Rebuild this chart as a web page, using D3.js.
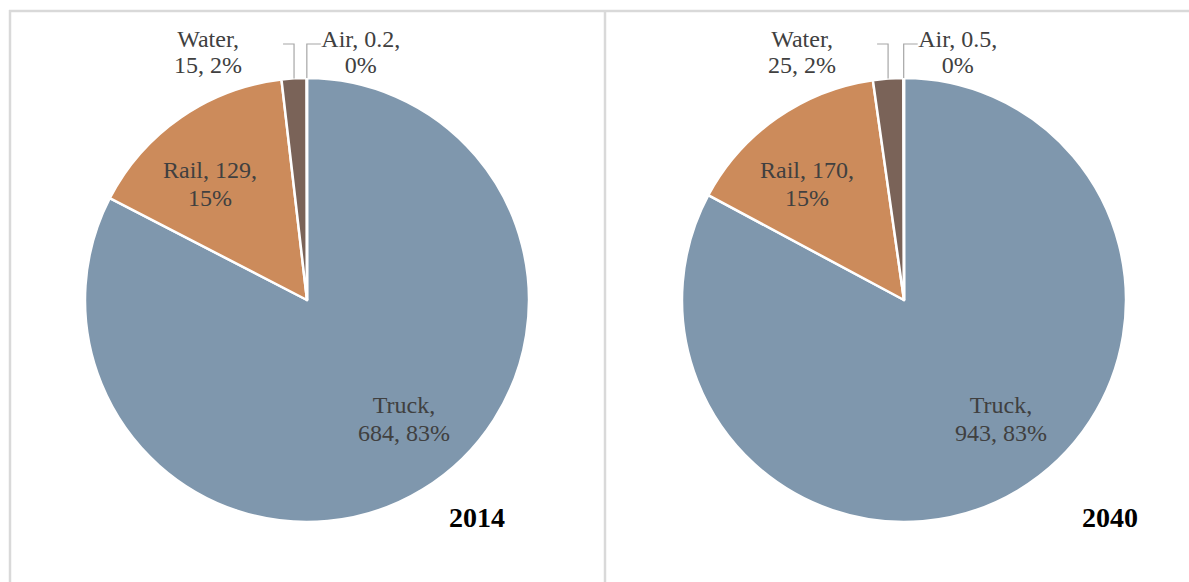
<!DOCTYPE html>
<html>
<head>
<meta charset="utf-8">
<script src="https://cdn.jsdelivr.net/npm/d3@7"></script>
<style>
  html, body { margin: 0; padding: 0; background: #fff; }
  svg { display: block; }
</style>
</head>
<body>
<svg id="chart" width="1189" height="582"></svg>
<script>
// Freight tonnage by mode (millions of tons)
const modes = ["Truck", "Rail", "Water", "Air"];
const years = ["2014", "2040"];
const values2014 = [684, 129, 15, 0.2];
const values2040 = [943, 170, 25, 0.5];
const percentLabels2014 = ["83%", "15%", "2%", "0%"];
const percentLabels2040 = ["83%", "15%", "2%", "0%"];
const valueLabels2014 = ["684", "129", "15", "0.2"];
const valueLabels2040 = ["943", "170", "25", "0.5"];

const colors = d3.scaleOrdinal()
  .domain(modes)
  .range(["#7f97ad", "#cc8b5b", "#7a6358", "#a5a5a5"]);

const W = 1189, H = 582;
const svg = d3.select("#chart");
svg.append("rect").attr("width", W).attr("height", H).attr("fill", "#fff");

// Panel frame
const frame = "#d9d9d9";
svg.append("line").attr("x1", 9).attr("x2", W).attr("y1", 11).attr("y2", 11)
  .attr("stroke", frame).attr("stroke-width", 2.5);
svg.append("line").attr("x1", 10).attr("x2", 10).attr("y1", 10).attr("y2", H)
  .attr("stroke", frame).attr("stroke-width", 2.5);
svg.append("line").attr("x1", 605).attr("x2", 605).attr("y1", 10).attr("y2", H)
  .attr("stroke", frame).attr("stroke-width", 2.5);

const radius = 222;
const panels = [
  { year: years[0], values: values2014, vals: valueLabels2014, pcts: percentLabels2014,
    cx: 307, cy: 300, yearX: 505 },
  { year: years[1], values: values2040, vals: valueLabels2040, pcts: percentLabels2040,
    cx: 904, cy: 300, yearX: 1138 }
];

// Inside-label offsets from the pie centre
const insideOffset = { Truck: [97, 119], Rail: [-97, -116] };
// Outside labels: leader goes up from the arc, then sideways
const leaderTop = -256;            // y of the leader elbow, relative to centre
const outsideSpec = {
  Water: { dx: -11, labelDx: -75 },
  Air:   { dx: 14,  labelDx: 40 }
};

const labelFont = "'Liberation Serif', 'Times New Roman', serif";
const textColor = "#404040";

const pie = d3.pie().sort(null).value(d => d.value);
const arc = d3.arc().innerRadius(0).outerRadius(radius);

panels.forEach(p => {
  const data = modes.map((m, i) => ({ mode: m, value: p.values[i], v: p.vals[i], pct: p.pcts[i] }));
  const arcs = pie(data);
  const g = svg.append("g").attr("transform", `translate(${p.cx},${p.cy})`);

  g.selectAll("path.slice")
    .data(arcs)
    .join("path")
    .attr("class", "slice")
    .attr("d", arc)
    .attr("fill", d => colors(d.data.mode))
    .attr("stroke", "#fff")
    .attr("stroke-width", 2.5)
    .attr("stroke-linejoin", "round");

  arcs.forEach(a => {
    const m = a.data.mode;
    const lines = [`${m}, ${a.data.v},`, a.data.pct];
    if (insideOffset[m]) {
      const [ox, oy] = insideOffset[m];
      const lineSet = m === "Truck" ? [`${m},`, `${a.data.v}, ${a.data.pct}`] : lines;
      const t = g.append("text")
        .attr("x", ox).attr("y", oy)
        .attr("text-anchor", "middle")
        .attr("font-family", labelFont)
        .attr("font-size", 24)
        .attr("fill", textColor);
      lineSet.forEach((s, k) => {
        t.append("tspan").attr("x", ox).attr("dy", k === 0 ? "-0.23em" : "1.15em").text(s);
      });
    } else {
      const spec = outsideSpec[m];
      const mid = (a.startAngle + a.endAngle) / 2;
      const ax = radius * Math.sin(mid);
      const ay = -radius * Math.cos(mid);
      const ex = ax + spec.dx;
      g.append("polyline")
        .attr("points", [[ax, ay], [ax, leaderTop], [ex, leaderTop]].map(q => q.join(",")).join(" "))
        .attr("fill", "none")
        .attr("stroke", "#a6a6a6")
        .attr("stroke-width", 1.2);
      const lineSet = m === "Water" ? [`${m},`, `${a.data.v}, ${a.data.pct}`] : lines;
      const lx = ex + spec.labelDx;
      const t = g.append("text")
        .attr("x", lx).attr("y", leaderTop + 3)
        .attr("text-anchor", "middle")
        .attr("font-family", labelFont)
        .attr("font-size", 24)
        .attr("fill", textColor);
      lineSet.forEach((s, k) => {
        t.append("tspan").attr("x", lx).attr("dy", k === 0 ? 0 : "1.1em").text(s);
      });
    }
  });

  svg.append("text")
    .attr("x", p.yearX).attr("y", 527)
    .attr("text-anchor", "end")
    .attr("font-family", "'Liberation Serif', 'Times New Roman', serif")
    .attr("font-weight", "bold")
    .attr("font-size", 28)
    .attr("fill", "#000")
    .text(p.year);
});
</script>
</body>
</html>
